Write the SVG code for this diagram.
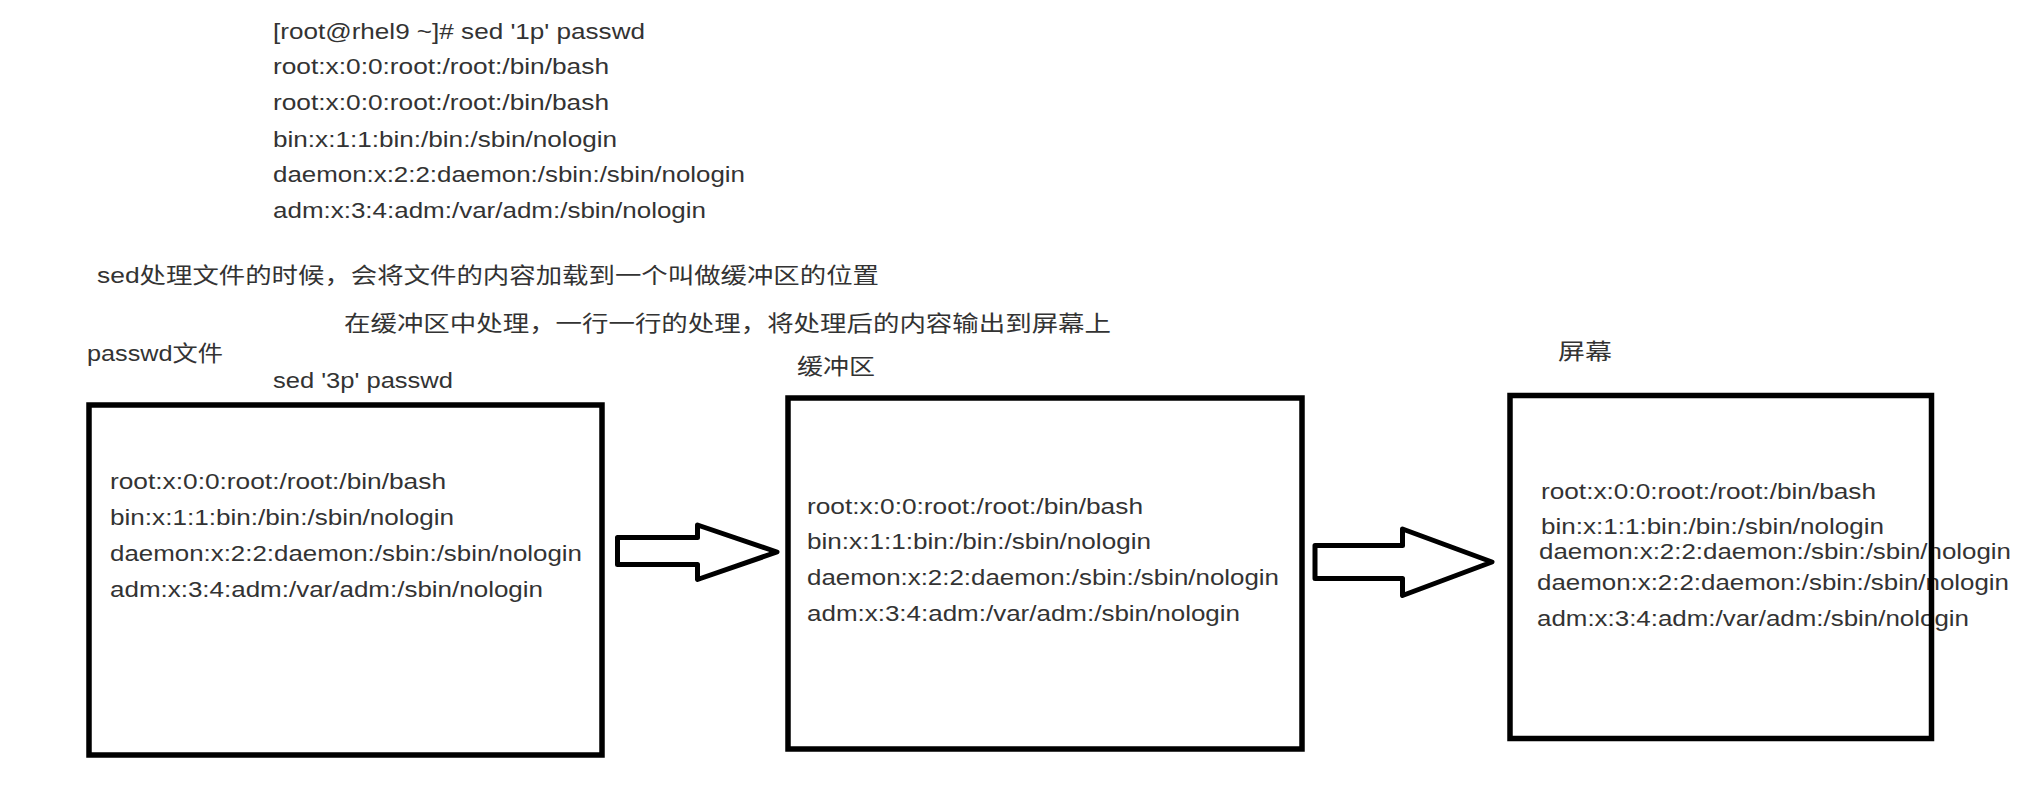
<svg xmlns="http://www.w3.org/2000/svg" width="2033" height="787" viewBox="0 0 2033 787">
<style>
  .t { font-family: "Liberation Sans", "Noto Sans CJK SC", sans-serif; font-size: 22px; fill: #333; }
  .box { fill: none; stroke: #000; stroke-width: 5.5; }
  .arrow { fill: #fff; stroke: #000; stroke-width: 5; stroke-linejoin: round; }
</style>
<rect x="0" y="0" width="2033" height="787" fill="#fff"/>

<g id="terminal-output">
  <text class="t" x="273" y="39" textLength="372" lengthAdjust="spacingAndGlyphs">[root@rhel9 ~]# sed '1p' passwd</text>
  <text class="t" x="273" y="74" textLength="336" lengthAdjust="spacingAndGlyphs">root:x:0:0:root:/root:/bin/bash</text>
  <text class="t" x="273" y="110" textLength="336" lengthAdjust="spacingAndGlyphs">root:x:0:0:root:/root:/bin/bash</text>
  <text class="t" x="273" y="147" textLength="344" lengthAdjust="spacingAndGlyphs">bin:x:1:1:bin:/bin:/sbin/nologin</text>
  <text class="t" x="273" y="182" textLength="472" lengthAdjust="spacingAndGlyphs">daemon:x:2:2:daemon:/sbin:/sbin/nologin</text>
  <text class="t" x="273" y="218" textLength="433" lengthAdjust="spacingAndGlyphs">adm:x:3:4:adm:/var/adm:/sbin/nologin</text>
</g>

<g id="notes">
  <text class="t" x="97" y="283" textLength="782" lengthAdjust="spacingAndGlyphs">sed处理文件的时候，会将文件的内容加载到一个叫做缓冲区的位置</text>
  <text class="t" x="344" y="331" textLength="767" lengthAdjust="spacingAndGlyphs">在缓冲区中处理，一行一行的处理，将处理后的内容输出到屏幕上</text>
  <text class="t" x="273" y="388" textLength="180" lengthAdjust="spacingAndGlyphs">sed '3p' passwd</text>
</g>

<g id="passwd-file">
  <text class="t" x="87" y="361" textLength="136" lengthAdjust="spacingAndGlyphs">passwd文件</text>
  <text class="t" x="110" y="489" textLength="336" lengthAdjust="spacingAndGlyphs">root:x:0:0:root:/root:/bin/bash</text>
  <text class="t" x="110" y="525" textLength="344" lengthAdjust="spacingAndGlyphs">bin:x:1:1:bin:/bin:/sbin/nologin</text>
  <text class="t" x="110" y="561" textLength="472" lengthAdjust="spacingAndGlyphs">daemon:x:2:2:daemon:/sbin:/sbin/nologin</text>
  <text class="t" x="110" y="597" textLength="433" lengthAdjust="spacingAndGlyphs">adm:x:3:4:adm:/var/adm:/sbin/nologin</text>
  <rect class="box" x="89" y="405" width="513" height="350"/>
</g>

<g id="buffer">
  <text class="t" x="797" y="374" textLength="78" lengthAdjust="spacingAndGlyphs">缓冲区</text>
  <text class="t" x="807" y="514" textLength="336" lengthAdjust="spacingAndGlyphs">root:x:0:0:root:/root:/bin/bash</text>
  <text class="t" x="807" y="549" textLength="344" lengthAdjust="spacingAndGlyphs">bin:x:1:1:bin:/bin:/sbin/nologin</text>
  <text class="t" x="807" y="585" textLength="472" lengthAdjust="spacingAndGlyphs">daemon:x:2:2:daemon:/sbin:/sbin/nologin</text>
  <text class="t" x="807" y="621" textLength="433" lengthAdjust="spacingAndGlyphs">adm:x:3:4:adm:/var/adm:/sbin/nologin</text>
  <rect class="box" x="788" y="398" width="514" height="351"/>
</g>

<g id="screen">
  <text class="t" x="1558" y="359" textLength="54" lengthAdjust="spacingAndGlyphs">屏幕</text>
  <text class="t" x="1541" y="499" textLength="335" lengthAdjust="spacingAndGlyphs">root:x:0:0:root:/root:/bin/bash</text>
  <text class="t" x="1541" y="534" textLength="343" lengthAdjust="spacingAndGlyphs">bin:x:1:1:bin:/bin:/sbin/nologin</text>
  <text class="t" x="1539" y="559" textLength="472" lengthAdjust="spacingAndGlyphs">daemon:x:2:2:daemon:/sbin:/sbin/nologin</text>
  <text class="t" x="1537" y="590" textLength="472" lengthAdjust="spacingAndGlyphs">daemon:x:2:2:daemon:/sbin:/sbin/nologin</text>
  <text class="t" x="1537" y="626" textLength="432" lengthAdjust="spacingAndGlyphs">adm:x:3:4:adm:/var/adm:/sbin/nologin</text>
  <rect class="box" x="1510" y="395.5" width="421.5" height="343"/>
</g>

<g id="connectors">
  <path class="arrow" d="M617.5,537.5 L697.5,537.5 L697.5,525 L777,552 L697.5,579.5 L697.5,564.5 L617.5,564.5 Z"/>
  <path class="arrow" d="M1315,545.5 L1402.5,545.5 L1402.5,529 L1492,562 L1402.5,595.5 L1402.5,578.5 L1315,578.5 Z"/>
</g>
</svg>
